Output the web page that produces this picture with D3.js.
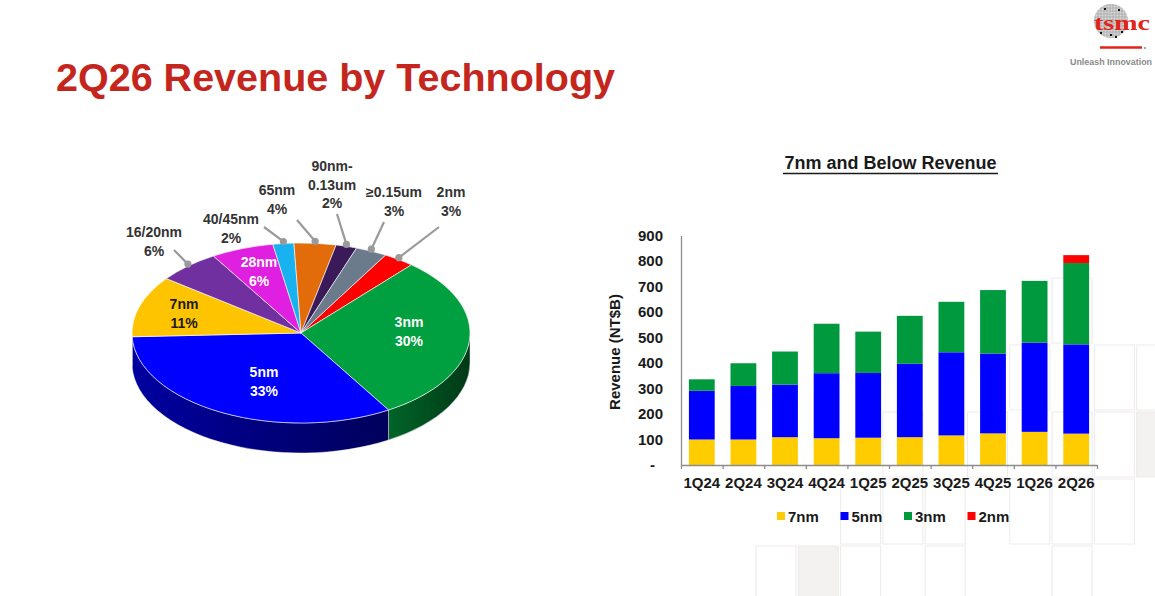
<!DOCTYPE html>
<html>
<head>
<meta charset="utf-8">
<script src="https://cdn.jsdelivr.net/npm/d3@7"></script>
<style>
  body { margin: 0; background: #fff; }
  svg { display: block; font-family: Arial, "Liberation Sans", sans-serif; }
</style>
</head>
<body>
<svg id="chart" width="1155" height="596"></svg>
<script>
// pie: share of wafer revenue by technology (clockwise from 2nm)
const techNames = ["2nm", "3nm", "5nm", "7nm", "16/20nm", "28nm", "40/45nm", "65nm", "90nm-0.13um", "≥0.15um"];
const techShare = [3, 30, 33, 11, 6, 6, 2, 4, 2, 3];
const techColors = ["#ff0000", "#00a040", "#0000ff", "#ffc400", "#7030a0", "#e020e0", "#19b2f0", "#e26b0a", "#3b1a5a", "#6b7b8c"];

// bars: 7nm and below revenue (NT$B)
const quarters = ["1Q24", "2Q24", "3Q24", "4Q24", "1Q25", "2Q25", "3Q25", "4Q25", "1Q26", "2Q26"];
const rev7nm = [100, 100, 109, 105, 107, 109, 116, 124, 130, 123];
const rev5nm = [191, 210, 206, 255, 254, 288, 326, 313, 350, 350];
const rev3nm = [45, 89, 130, 194, 162, 188, 198, 249, 242, 319];
const rev2nm = [0, 0, 0, 0, 0, 0, 0, 0, 0, 31];
const barKeys = ["7nm", "5nm", "3nm", "2nm"];
const barColors = ["#ffcc00", "#0000ff", "#00993d", "#ff0000"];
const yTicks = [0, 100, 200, 300, 400, 500, 600, 700, 800, 900];

const svg = d3.select("#chart");
const defs = svg.append("defs");

// faint decorative squares in the slide background [col,row,filled]
const bgCells = [[7,0,0],[6,1,0],[8,1,0],[9,1,0],[3,2,0],[5,2,0],[7,2,0],[8,2,0],[9,2,1],
  [2,3,0],[3,3,0],[4,3,0],[6,3,0],[7,3,0],[8,3,0],[0,4,0],[1,4,1],[2,4,0],[4,4,0],[7,4,0]];
svg.append("g").selectAll("rect").data(bgCells).join("rect")
  .attr("x", d => 756 + d[0] * 42.3)
  .attr("y", d => 278 + d[1] * 67)
  .attr("width", 40).attr("height", 65)
  .attr("fill", d => d[2] ? "#f3f2f0" : "#fff")
  .attr("stroke", "#eeeaea").attr("stroke-width", 1);

// title
svg.append("text")
  .attr("x", 56).attr("y", 91)
  .attr("font-size", 39.5).attr("font-weight", "bold")
  .attr("fill", "#c4261d")
  .text("2Q26 Revenue by Technology");

// tsmc logo
const logo = svg.append("g");
defs.append("clipPath").attr("id", "wafer").append("circle").attr("cx", 1111).attr("cy", 21).attr("r", 17);
logo.append("circle").attr("cx", 1111).attr("cy", 21).attr("r", 17).attr("fill", "#d8d8d8");
const grid = logo.append("g").attr("clip-path", "url(#wafer)").attr("stroke", "#9a9a9a").attr("stroke-width", 0.6);
d3.range(1092, 1132, 3).forEach(v => grid.append("line").attr("x1", v).attr("x2", v).attr("y1", 2).attr("y2", 40));
d3.range(2, 42, 3).forEach(v => grid.append("line").attr("y1", v).attr("y2", v).attr("x1", 1092).attr("x2", 1130));
[[1104, 8], [1118, 9], [1100, 32], [1110, 34], [1121, 31], [1115, 36]].forEach(p =>
  logo.append("rect").attr("x", p[0]).attr("y", p[1]).attr("width", 2).attr("height", 2).attr("fill", "#111"));
logo.append("text").attr("x", 1094).attr("y", 30)
  .attr("font-family", "'Liberation Serif', serif").attr("font-weight", "bold")
  .attr("font-size", 21).attr("fill", "#e2231a")
  .attr("textLength", 56).attr("lengthAdjust", "spacingAndGlyphs").text("tsmc");
logo.append("line").attr("x1", 1100).attr("x2", 1142).attr("y1", 47.5).attr("y2", 47.5)
  .attr("stroke", "#e2231a").attr("stroke-width", 2.5);
logo.append("circle").attr("cx", 1145).attr("cy", 48).attr("r", 1).attr("fill", "#888");
logo.append("text").attr("x", 1070).attr("y", 65).attr("font-size", 8.2).attr("font-weight", "bold")
  .attr("fill", "#8a8a8a").attr("textLength", 82).attr("lengthAdjust", "spacingAndGlyphs")
  .text("Unleash Innovation");

// ---------------- 3D pie ----------------
const cx = 301, cy = 333, rx = 169, ry = 90, depth = 30;
const pieData = d3.pie().sort(null)
  .startAngle(Math.PI / 6).endAngle(Math.PI / 6 + 2 * Math.PI)(techShare)
  .map((d, i) => ({ ...d, name: techNames[i], color: techColors[i] }));

const pt = (a, dy = 0) => [cx + rx * Math.sin(a), cy - ry * Math.cos(a) + dy];
const pieG = svg.append("g");

// side walls (front half only: angles between pi/2 and 3pi/2)
pieData.forEach((d, i) => {
  const a0 = Math.max(d.startAngle, Math.PI / 2), a1 = Math.min(d.endAngle, 3 * Math.PI / 2);
  if (a1 <= a0) return;
  const p0 = pt(a0), p1 = pt(a1), q0 = pt(a0, depth), q1 = pt(a1, depth);
  const large = (a1 - a0) > Math.PI ? 1 : 0;
  const gid = "side" + i;
  const gr = defs.append("linearGradient").attr("id", gid).attr("gradientUnits", "userSpaceOnUse")
    .attr("x1", Math.min(p0[0], p1[0])).attr("x2", Math.max(p0[0], p1[0])).attr("y1", 0).attr("y2", 0);
  gr.append("stop").attr("offset", 0).attr("stop-color", d3.color(d.color).darker(1.3));
  gr.append("stop").attr("offset", 1).attr("stop-color", d3.color(d.color).darker(2.9));
  pieG.append("path")
    .attr("d", `M${p0}A${rx},${ry} 0 ${large} 1 ${p1}L${q1}A${rx},${ry} 0 ${large} 0 ${q0}Z`)
    .attr("fill", `url(#${gid})`)
    .attr("stroke", "rgba(255,255,255,0.6)").attr("stroke-width", 0.7);
});

// top face: circular arcs squashed into an ellipse
const arc = d3.arc().innerRadius(0).outerRadius(rx);
pieG.append("g")
  .attr("transform", `translate(${cx},${cy}) scale(1,${ry / rx})`)
  .selectAll("path").data(pieData).join("path")
  .attr("d", arc)
  .attr("fill", d => d.color)
  .attr("stroke", "rgba(255,255,255,0.75)").attr("stroke-width", 0.8)
  .attr("vector-effect", "non-scaling-stroke");

// labels inside the pie
const insideLabels = [
  { name: "3nm", x: 409, y: 327, fill: "#fff" },
  { name: "5nm", x: 264, y: 377, fill: "#fff" },
  { name: "7nm", x: 184, y: 309, fill: "#1a1a1a" },
  { name: "28nm", x: 259, y: 267, fill: "#fff" }
];
// labels outside with leader lines
const outsideLabels = [
  { name: "16/20nm", x: 154, y: 237, lx: 174, ly: 250 },
  { name: "40/45nm", x: 231, y: 224, lx: 264, ly: 227 },
  { name: "65nm", x: 277, y: 195, lx: 297, ly: 220 },
  { name: "90nm-0.13um", x: 332, y: 171, lx: 337, ly: 214 },
  { name: "≥0.15um", x: 394, y: 197, lx: 384, ly: 222 },
  { name: "2nm", x: 451, y: 197, lx: 439, ly: 227 }
];
const byName = new Map(pieData.map(d => [d.name, d]));
const lines = name => {
  const pct = byName.get(name).value + "%";
  return name.includes("-") ? [name.split("-")[0] + "-", name.split("-")[1], pct] : [name, pct];
};
function putLabel(g, l, fill) {
  const t = g.append("text").attr("x", l.x).attr("y", l.y).attr("text-anchor", "middle")
    .attr("font-size", 14).attr("font-weight", "bold").attr("fill", fill);
  lines(l.name).forEach((s, k) => t.append("tspan").attr("x", l.x).attr("dy", k ? 18.5 : 0).text(s));
}
const labG = svg.append("g");
insideLabels.forEach(l => putLabel(labG, l, l.fill));
outsideLabels.forEach(l => {
  const d = byName.get(l.name);
  const p = pt((d.startAngle + d.endAngle) / 2, -2);
  labG.append("line").attr("x1", l.lx).attr("y1", l.ly).attr("x2", p[0]).attr("y2", p[1])
    .attr("stroke", "#9a9a9a").attr("stroke-width", 2.2);
  labG.append("circle").attr("cx", p[0]).attr("cy", p[1]).attr("r", 3.6).attr("fill", "#9a9a9a");
  putLabel(labG, l, "#333");
});

// ---------------- stacked bars ----------------
const rows = quarters.map((q, i) => ({ q, "7nm": rev7nm[i], "5nm": rev5nm[i], "3nm": rev3nm[i], "2nm": rev2nm[i] }));
const stacked = d3.stack().keys(barKeys)(rows);

const x = d3.scaleBand().domain(quarters).range([681, 1097]).paddingInner(0.38).paddingOuter(0.19);
const y = d3.scaleLinear().domain([0, 900]).range([465, 235.5]);

svg.append("text").attr("x", 890.5).attr("y", 169).attr("text-anchor", "middle")
  .attr("font-size", 18).attr("font-weight", "bold").attr("fill", "#1a1a1a")
  .text("7nm and Below Revenue");
svg.append("line").attr("x1", 783).attr("x2", 998).attr("y1", 173.5).attr("y2", 173.5)
  .attr("stroke", "#1a1a1a").attr("stroke-width", 1.6);

svg.append("g").selectAll("g").data(stacked).join("g")
  .attr("fill", (d, i) => barColors[i])
  .selectAll("rect").data(d => d).join("rect")
  .attr("x", d => x(d.data.q))
  .attr("y", d => y(d[1]))
  .attr("width", x.bandwidth())
  .attr("height", d => y(d[0]) - y(d[1]));

// y axis
const yAxis = svg.append("g").attr("transform", "translate(681,0)")
  .call(d3.axisLeft(y).tickValues(yTicks).tickSize(0).tickPadding(18).tickFormat(d => d === 0 ? "-" : d));
yAxis.select(".domain").attr("stroke", "#8c8c8c").attr("stroke-width", 1.3);
yAxis.selectAll("text").attr("font-size", 15).attr("font-weight", "bold").attr("fill", "#1a1a1a")
  .attr("font-family", "Arial, 'Liberation Sans', sans-serif")
  .attr("dx", d => d === 0 ? -8 : 0);

// x axis: labels at band centres, tick marks between categories
const xAxis = svg.append("g").attr("transform", "translate(0,465)")
  .call(d3.axisBottom(x).tickSize(0).tickPadding(12));
xAxis.select(".domain").remove();
xAxis.selectAll("text").attr("font-size", 15).attr("font-weight", "bold").attr("fill", "#1a1a1a")
  .attr("font-family", "Arial, 'Liberation Sans', sans-serif");
const xEdge = d3.scaleLinear().domain([0, quarters.length]).range([681, 1097]);
const xTicks = svg.append("g").attr("transform", "translate(0,465)")
  .call(d3.axisBottom(xEdge).tickValues(d3.range(quarters.length + 1)).tickSize(4).tickSizeOuter(0).tickFormat(""));
xTicks.selectAll("line, path").attr("stroke", "#8c8c8c").attr("stroke-width", 1.3);

svg.append("text")
  .attr("transform", "translate(620,352) rotate(-90)")
  .attr("text-anchor", "middle").attr("font-size", 15).attr("font-weight", "bold").attr("fill", "#1a1a1a")
  .text("Revenue (NT$B)");

// legend
const leg = svg.append("g").selectAll("g").data(barKeys).join("g")
  .attr("transform", (d, i) => `translate(${777 + i * 63.5},512)`);
leg.append("rect").attr("width", 8).attr("height", 8).attr("fill", (d, i) => barColors[i]);
leg.append("text").attr("x", 11).attr("y", 9.5).attr("font-size", 15).attr("font-weight", "bold")
  .attr("fill", "#1a1a1a").text(d => d);
</script>
</body>
</html>
